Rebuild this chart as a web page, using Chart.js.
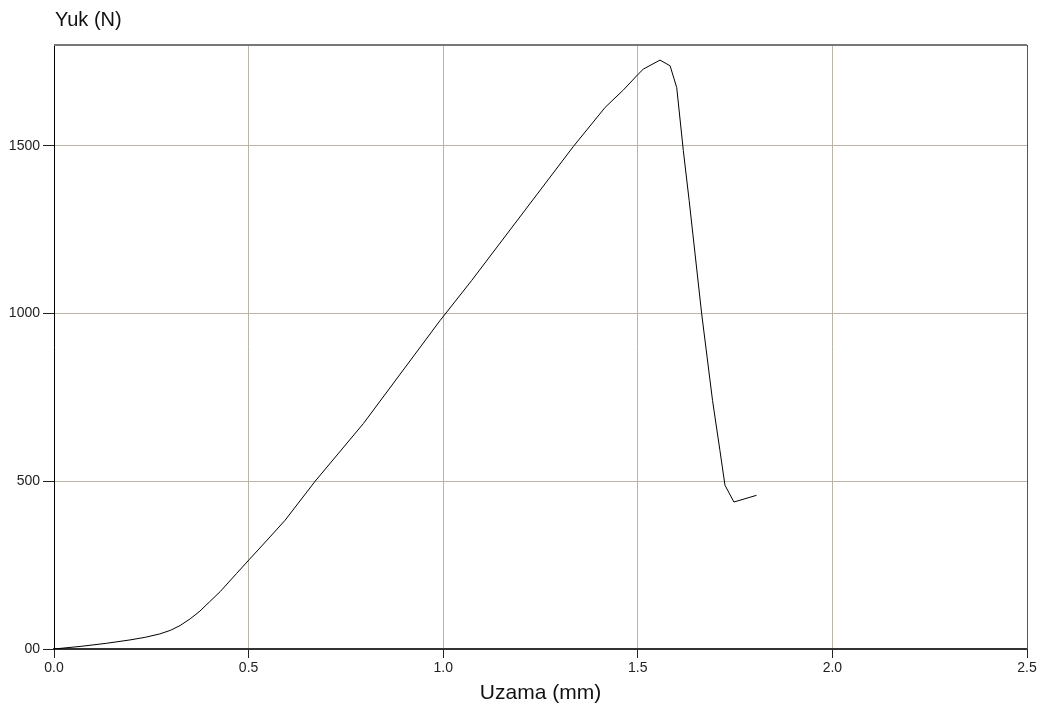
<!DOCTYPE html>
<html>
<head>
<meta charset="utf-8">
<script src="https://cdn.jsdelivr.net/npm/chart.js@4.4.1/dist/chart.umd.min.js"></script>
<style>
  html, body { margin: 0; padding: 0; background: #fff; }
  #wrap { width: 1048px; height: 717px; position: relative; }
</style>
</head>
<body>
<div id="wrap"><canvas id="chart" width="1048" height="717"></canvas></div>
<script>
// Uzama (mm) vs Yuk (N)
const uzama = [0, 0.07, 0.135, 0.195, 0.235, 0.272, 0.3, 0.324, 0.35, 0.375, 0.4, 0.427, 0.469, 0.502,
               0.555, 0.594, 0.671, 0.795, 0.992, 1.073, 1.232, 1.334, 1.416, 1.463, 1.501, 1.514,
               1.557, 1.583, 1.600, 1.617, 1.632, 1.664, 1.692, 1.711, 1.724, 1.747, 1.805];
const yuk = [0, 8, 17, 27, 35, 45, 56, 70, 90, 113, 141, 171, 225, 267,
             334, 384, 500, 672, 979, 1098, 1341, 1497, 1614, 1666, 1713, 1728,
             1755, 1738, 1673, 1485, 1336, 1000, 741, 592, 488, 438, 458];
const xTicks = [0, 0.5, 1.0, 1.5, 2.0, 2.5];
const yTicks = [0, 500, 1000, 1500];

const FONT = "'Liberation Sans', Arial, sans-serif";
const gridColor = '#bab5a5';

const frame = {
    id: 'frame',
    afterDraw(chart) {
        const { ctx, chartArea: a } = chart;
        ctx.save();
        ctx.strokeStyle = '#777';
        ctx.lineWidth = 2;
        ctx.beginPath();
        ctx.moveTo(a.left, a.top);
        ctx.lineTo(a.right, a.top);
        ctx.stroke();
        ctx.strokeStyle = '#555';
        ctx.lineWidth = 1;
        ctx.beginPath();
        ctx.moveTo(a.right + 0.5, a.top);
        ctx.lineTo(a.right + 0.5, a.bottom);
        ctx.stroke();
        // y axis name, top left
        ctx.fillStyle = '#111';
        ctx.font = '20px ' + FONT;
        ctx.textBaseline = 'alphabetic';
        ctx.fillText('Yuk (N)', a.left + 1, 26);
        ctx.restore();
    }
};

new Chart(document.getElementById('chart'), {
    type: 'scatter',
    data: {
        datasets: [{
            data: uzama.map((x, i) => ({ x: x, y: yuk[i] })),
            showLine: true,
            borderColor: '#000',
            borderWidth: 1,
            pointRadius: 0,
            tension: 0
        }]
    },
    options: {
        responsive: false,
        animation: false,
        layout: { padding: { left: 0, right: 21, top: 45, bottom: 0 } },
        plugins: { legend: { display: false }, tooltip: { enabled: false } },
        scales: {
            x: {
                type: 'linear',
                min: 0, max: 2.5,
                afterBuildTicks: s => { s.ticks = xTicks.map(v => ({ value: v })); },
                afterFit: s => { s.height = 68; },
                ticks: {
                    callback: v => v.toFixed(1),
                    color: '#222',
                    font: { family: FONT, size: 14 },
                    padding: 2,
                    maxRotation: 0
                },
                grid: { color: gridColor, tickColor: '#222', tickLength: 9 },
                border: { color: '#333', width: 2 },
                title: {
                    display: true,
                    text: 'Uzama (mm)',
                    color: '#111',
                    font: { family: FONT, size: 21 },
                    padding: { top: 0, bottom: 11 }
                }
            },
            y: {
                min: 0, max: 1800,
                afterBuildTicks: s => { s.ticks = yTicks.map(v => ({ value: v })); },
                afterFit: s => { s.width = 54; },
                ticks: {
                    callback: v => v === 0 ? '00' : String(v),
                    color: '#222',
                    font: { family: FONT, size: 14 },
                    padding: 3
                },
                grid: { color: gridColor, tickColor: '#222', tickLength: 11 },
                border: { color: '#000', width: 1 }
            }
        }
    },
    plugins: [frame]
});
</script>
</body>
</html>
